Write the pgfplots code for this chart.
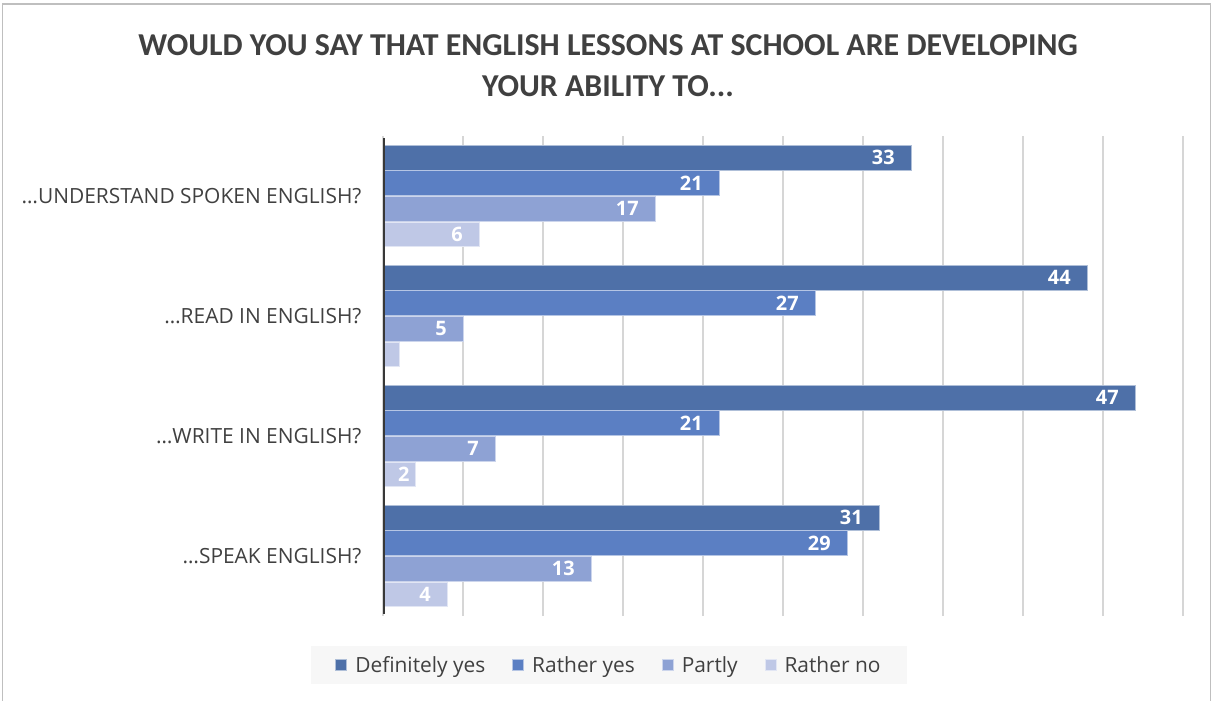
\documentclass[border=0pt]{standalone}
\usepackage{pgfplots}
\pgfplotsset{compat=1.18}
\usepackage{fontspec}
\setmainfont{Carlito}
\newfontfamily\os{Open Sans}
\definecolor{c1}{HTML}{4E70A8}
\definecolor{c2}{HTML}{5B7FC3}
\definecolor{c3}{HTML}{8EA2D4}
\definecolor{c4}{HTML}{BFC8E6}
\definecolor{txt}{HTML}{404040}
\definecolor{legbg}{HTML}{F7F7F7}
\begin{document}
\begin{tikzpicture}
\useasboundingbox (0,0) rectangle (1214bp,701bp);
\fill[white] (0,0) rectangle (1214bp,701bp);
\draw[color=gray!50, line width=1.5bp] (2.5bp,0) -- (2.5bp,697bp) -- (1210.5bp,697bp) -- (1210.5bp,0);
\node[anchor=base, font=\bfseries\fontsize{32}{36}\selectfont, text=txt] at (608bp,645bp) {WOULD YOU SAY THAT ENGLISH LESSONS AT SCHOOL ARE DEVELOPING};
\node[anchor=base, font=\bfseries\fontsize{32}{36}\selectfont, text=txt] at (608bp,604bp) {YOUR ABILITY TO...};
\begin{axis}[
  at={(383bp,85bp)}, anchor=south west, scale only axis,
  width=800bp, height=480bp,
  xbar, xmin=0, xmax=50, ymin=-0.5, ymax=3.5, y dir=reverse,
  bar width=0.208,
  axis line style={draw=none},
  major tick length=0,
  xtick={0,5,...,50}, xticklabels={},
  xmajorgrids, major grid style={color=black!16, line width=1.3bp},
  ytick={0,1,2,3},
  yticklabels={…UNDERSTAND SPOKEN ENGLISH?, …READ IN ENGLISH?, …WRITE IN ENGLISH?, …SPEAK ENGLISH?},
  yticklabel style={font=\os\fontsize{21}{24}\selectfont, text=txt, xshift=-18bp},
  /pgf/number format/assume math mode=true,
  nodes near coords,
  visualization depends on={x \as \xv},
  every node near coord/.append style={anchor=east, inner xsep=0pt, xshift={-min(16,16*\xv-27)}, text=white, font=\os\bfseries\fontsize{20}{22}\selectfont},
  mybar/.style={fill=#1, draw=white!55!#1, line width=0.8bp,
    legend image code/.code={\fill[fill=#1, draw=white!55!#1] (0bp,-5.5bp) rectangle (11bp,5.5bp); \path (17bp,0bp);}},
  legend style={at={(0.2825,-0.102)}, anchor=center, legend columns=4, draw=none, fill=legbg,
    font=\os\fontsize{21}{24}\selectfont, text=txt, inner xsep=24bp, inner ysep=8bp,
    /tikz/every even column/.append style={column sep=25bp}},
  legend cell align=left,
]
\addplot[mybar=c1, bar shift=-0.32] coordinates {(33,0) (44,1) (47,2) (31,3)};
\addplot[mybar=c2, bar shift=-0.107] coordinates {(21,0) (27,1) (21,2) (29,3)};
\addplot[mybar=c3, bar shift=0.107] coordinates {(17,0) (5,1) (7,2) (13,3)};
\addplot[mybar=c4, bar shift=0.32, point meta=explicit symbolic] coordinates {(6,0)[6] (1,1)[] (2,2)[2] (4,3)[4]};
\legend{Definitely yes, Rather yes, Partly, Rather no}
\draw[line width=3bp, color=black!78] (axis cs:0,-0.48) -- (axis cs:0,3.48);
\end{axis}
\end{tikzpicture}
\end{document}
